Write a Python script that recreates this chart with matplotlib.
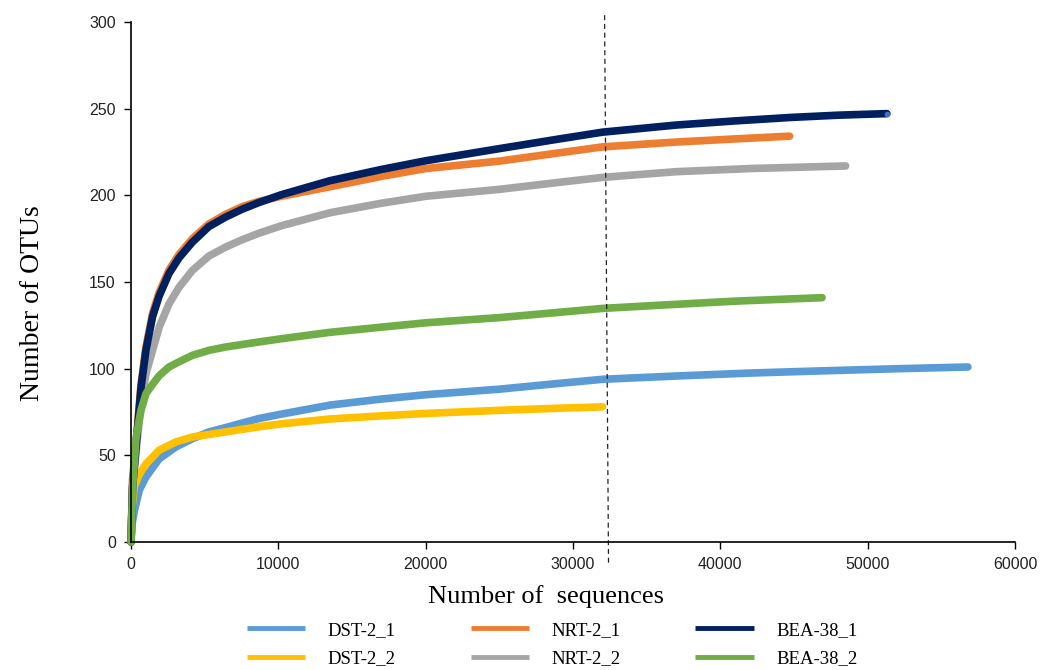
"""OTU 稀释曲线（rarefaction curves）复刻。"""

import matplotlib
matplotlib.use("Agg")
import matplotlib.pyplot as plt

# 各样本的测序数 / OTU 数
dst21_x = [0, 60, 225, 560, 1010, 1910, 3030, 4160, 5280, 6400, 8650, 10200, 13500,
           17000, 20000, 25000, 29000, 32000, 37000, 42000, 47000, 52000, 56800]
dst21_y = [0, 10, 18, 30, 37.5, 48, 54.8, 59.6, 63.5, 66, 71.2, 73.8, 79, 82.5, 85,
           88.2, 91.5, 93.9, 95.8, 97.5, 98.8, 100, 101]

dst22_x = [0, 60, 225, 560, 1010, 1910, 3030, 4160, 6400, 8650, 10200, 13500, 17000,
           20000, 25000, 29000, 32000]
dst22_y = [0, 20, 32, 39, 45, 53, 57.7, 60.6, 63.5, 66.5, 68.2, 71, 72.8, 74.2, 76,
           77.2, 78]

nrt21_x = [0, 100, 340, 675, 1010, 1460, 1910, 2580, 3260, 4160, 5280, 6400, 7530,
           8650, 10200, 13500, 17000, 20000, 25000, 29000, 32000, 37000, 41000, 44700]
nrt21_y = [0, 36, 57, 91, 112.5, 132, 144, 157, 166, 175, 183.5, 189, 193.5, 196.5,
           199.5, 205, 211, 215.5, 219.8, 224.5, 228, 230.8, 232.6, 234.2]

nrt22_x = [0, 100, 340, 675, 1010, 1460, 1910, 2580, 3260, 4160, 5280, 6400, 7530,
           8650, 10200, 13500, 17000, 20000, 25000, 29000, 32000, 37000, 42000, 48500]
nrt22_y = [0, 30, 52, 80, 97, 110.6, 124, 137.5, 147, 156.7, 165, 170.1, 174.4, 178.1,
           182.5, 190, 195.5, 199.5, 203.5, 207.5, 210.4, 213.7, 215.5, 217]

bea381_x = [0, 100, 340, 675, 1010, 1460, 1910, 2580, 3260, 4160, 5280, 6400, 7530,
            8650, 10200, 13500, 17000, 20000, 25000, 29000, 32000, 37000, 41000, 44800,
            48000, 51300]
bea381_y = [0, 32, 55, 89, 110.6, 130, 142, 155, 164, 173, 182, 187.4, 192, 195.8,
            200.4, 208.5, 215, 220, 227, 232.5, 236.5, 240.6, 243, 245, 246.3, 247.2]

bea382_x = [0, 110, 340, 675, 1010, 1460, 1910, 2580, 3260, 4160, 5280, 6400, 8650,
            10200, 13500, 17000, 20000, 25000, 29000, 32000, 36000, 41000, 46900]
bea382_y = [0, 32, 60, 76, 85.6, 91, 96, 101, 104, 107.7, 110.6, 112.5, 115.4, 117.3,
            121, 124, 126.5, 129.5, 132.5, 134.8, 136.7, 139, 141]

cutoff_x = [32140, 32410]
cutoff_y = [304, -13]

# 绘制顺序与原图叠放一致
SERIES = [
    ("DST-2_1", dst21_x, dst21_y, "#5B9BD5"),
    ("DST-2_2", dst22_x, dst22_y, "#FFC000"),
    ("NRT-2_1", nrt21_x, nrt21_y, "#ED7D31"),
    ("NRT-2_2", nrt22_x, nrt22_y, "#A5A5A5"),
    ("BEA-38_1", bea381_x, bea381_y, "#002060"),
    ("BEA-38_2", bea382_x, bea382_y, "#70AD47"),
]
LEGEND_ORDER = ["DST-2_1", "DST-2_2", "NRT-2_1", "NRT-2_2", "BEA-38_1", "BEA-38_2"]

SERIF = ["Liberation Serif", "DejaVu Serif"]
SANS = ["Liberation Sans", "DejaVu Sans"]

fig = plt.figure(figsize=(10.4, 6.7), dpi=100)
ax = fig.add_axes([0.126, 0.191, 0.850, 0.776])

lines = {}
for name, xs, ys, color in SERIES:
    (ln,) = ax.plot(xs, ys, color=color, linewidth=5.5, solid_capstyle="round",
                    solid_joinstyle="round", clip_on=False, label=name)
    lines[name] = ln

# BEA-38_1 末端的小圆点
ax.plot(bea381_x[-1:], bea381_y[-1:], "o", color="#4472C4", markersize=3, clip_on=False)

ax.plot(cutoff_x, cutoff_y, color="#222222", linewidth=0.9, linestyle=(0, (4, 3)),
        clip_on=False)

ax.set_xlim(0, 60000)
ax.set_ylim(0, 300)
ax.set_xticks(range(0, 60001, 10000))
ax.set_yticks(range(0, 301, 50))
for lbl in ax.get_xticklabels() + ax.get_yticklabels():
    lbl.set_family(SANS)
    lbl.set_fontsize(11.5)
    lbl.set_color("#222222")
ax.tick_params(direction="out", length=5, width=1, color="black", pad=6)
ax.spines["top"].set_visible(False)
ax.spines["right"].set_visible(False)
for side in ("left", "bottom"):
    ax.spines[side].set_linewidth(1.2)
    ax.spines[side].set_color("black")

ax.set_xlabel("Number of  sequences", family=SERIF, fontsize=19)
ax.set_ylabel("Number of OTUs", family=SERIF, fontsize=20)
ax.xaxis.set_label_coords(0.469, -0.082)
ax.yaxis.set_label_coords(-0.097, 0.46)

handles = [lines[n] for n in LEGEND_ORDER]
leg = fig.legend(handles, LEGEND_ORDER, loc="upper center", bbox_to_anchor=(0.531, 0.097),
                 ncol=3, frameon=False, handlelength=3.1, handletextpad=1.2,
                 columnspacing=4.0, labelspacing=0.6, prop={"family": SERIF, "size": 13.5})
for h in leg.legend_handles:
    h.set_linewidth(3.5)
    h.set_solid_capstyle("butt")

fig.savefig("out.png", dpi=100, facecolor="white")
